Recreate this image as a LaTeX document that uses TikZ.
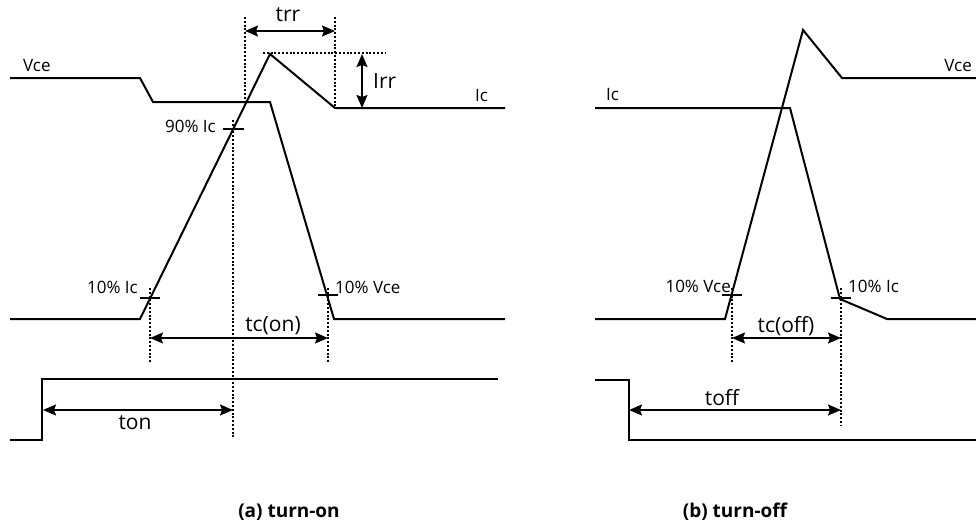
\documentclass[tikz,border=0pt]{standalone}
\usepackage{fontspec}
\setmainfont{Open Sans}
\usetikzlibrary{arrows.meta}
\begin{document}
\begin{tikzpicture}[x=1pt,y=-1pt,
  wave/.style={line width=2pt, line join=miter},
  guide/.style={line width=1.1pt, dash pattern=on 2pt off 1.8pt},
  dim/.style={line width=1.8pt, {Stealth[length=13pt,width=11pt,inset=2pt]}-{Stealth[length=13pt,width=11pt,inset=2pt]}},
  tickmark/.style={line width=1.3pt},
  lbl/.style={inner sep=0pt, font=\fontsize{17}{20}\selectfont},
  big/.style={inner sep=0pt, font=\fontsize{21}{24}\selectfont},
  captxt/.style={inner sep=0pt, font=\fontsize{19}{22}\selectfont\bfseries}]
\useasboundingbox (0,0) rectangle (976,527);

% ---------------- (a) turn-on ----------------
% Vce waveform
\coordinate (av0) at (10,78);
\coordinate (av1) at (140,78);
\coordinate (av2) at (153,102);
\coordinate (av3) at (270,102);
\coordinate (av4) at (334,319);
\coordinate (av5) at (505,319);
\draw[wave] (av0) -- (av1) -- (av2) -- (av3) -- (av4) -- (av5);
% Ic waveform
\coordinate (ai0) at (10,319);
\coordinate (ai1) at (140,319);
\coordinate (ai2) at (270,54);
\coordinate (ai3) at (335,108);
\coordinate (ai4) at (505,108);
\draw[wave] (ai0) -- (ai1) -- (ai2) -- (ai3) -- (ai4);
% gate
\coordinate (ag0) at (10,440);
\coordinate (ag1) at (42,440);
\coordinate (ag2) at (42,379);
\coordinate (ag3) at (498,379);
\draw[wave] (ag0) -- (ag1) -- (ag2) -- (ag3);

% guides
\coordinate (d90t) at (233,120);  \coordinate (d90b) at (233,438);
\coordinate (dtrA) at (245,17);   \coordinate (dtrAb) at (245,103);
\coordinate (dtrB) at (335,17);   \coordinate (dtrBb) at (335,108);
\coordinate (dpkA) at (263,53);   \coordinate (dpkB) at (385,53);
\coordinate (d10t) at (150,288);  \coordinate (d10b) at (150,362);
\coordinate (dvt)  at (328,288);  \coordinate (dvb)  at (328,362);
\draw[guide] (d90t) -- (d90b);
\draw[guide] (dtrA) -- (dtrAb);
\draw[guide] (dtrB) -- (dtrBb);
\draw[guide] (dpkA) -- (dpkB);
\draw[guide] (d10t) -- (d10b);
\draw[guide] (dvt) -- (dvb);

% ticks
\coordinate (t90a) at (223,129); \coordinate (t90b) at (244,129);
\coordinate (t10a) at (140,298); \coordinate (t10b) at (160,298);
\coordinate (tva)  at (318,295); \coordinate (tvb)  at (338,295);
\draw[tickmark] (t90a) -- (t90b);
\draw[tickmark] (t10a) -- (t10b);
\draw[tickmark] (tva) -- (tvb);

% dimension arrows
\coordinate (trrL) at (245,31);  \coordinate (trrR) at (335,31);
\coordinate (irrT) at (362,54);  \coordinate (irrB) at (362,108);
\coordinate (tconL) at (150,338); \coordinate (tconR) at (328,338);
\coordinate (tonL) at (43,410);  \coordinate (tonR) at (233,410);
\draw[dim] (trrL) -- (trrR);
\draw[dim] (irrT) -- (irrB);
\draw[dim] (tconL) -- (tconR);
\draw[dim] (tonL) -- (tonR);

% labels
\node[lbl, anchor=base west] (aVce) at (23,71) {Vce};
\node[lbl, anchor=base west] (aIc) at (475,101) {Ic};
\node[big, anchor=base west] (aIrr) at (373,88) {Irr};
\node[big, anchor=base] (atrr) at (288,22) {trr};
\node[lbl, anchor=base east] (a90) at (216,132) {90\% Ic};
\node[lbl, anchor=base east] (a10i) at (138,293) {10\% Ic};
\node[lbl, anchor=base west] (a10v) at (335,293) {10\% Vce};
\node[big, anchor=base] (atcon) at (273,331) {tc(on)};
\node[big, anchor=base] (aton) at (135,429) {ton};
\node[captxt, anchor=base] (acap) at (289,517) {(a) turn-on};

% ---------------- (b) turn-off ----------------
% Ic waveform
\coordinate (bi0) at (595,108);
\coordinate (bi1) at (790,108);
\coordinate (bi2) at (840,299);
\coordinate (bi3) at (887,319);
\coordinate (bi4) at (976,319);
\draw[wave] (bi0) -- (bi1) -- (bi2) -- (bi3) -- (bi4);
% Vce waveform
\coordinate (bv0) at (595,319);
\coordinate (bv1) at (725,319);
\coordinate (bv2) at (803,30);
\coordinate (bv3) at (842,78);
\coordinate (bv4) at (976,78);
\draw[wave] (bv0) -- (bv1) -- (bv2) -- (bv3) -- (bv4);
% gate
\coordinate (bg0) at (595,380);
\coordinate (bg1) at (629,380);
\coordinate (bg2) at (629,440);
\coordinate (bg3) at (976,440);
\draw[wave] (bg0) -- (bg1) -- (bg2) -- (bg3);

% guides
\coordinate (bdvt) at (732,288); \coordinate (bdvb) at (732,362);
\coordinate (bdit) at (841,288); \coordinate (bdib) at (841,425);
\draw[guide] (bdvt) -- (bdvb);
\draw[guide] (bdit) -- (bdib);

% ticks
\coordinate (btva) at (722,295); \coordinate (btvb) at (742,295);
\coordinate (btia) at (831,298); \coordinate (btib) at (851,298);
\draw[tickmark] (btva) -- (btvb);
\draw[tickmark] (btia) -- (btib);

% dimension arrows
\coordinate (tcoffL) at (732,338); \coordinate (tcoffR) at (841,338);
\coordinate (toffL) at (629,410);  \coordinate (toffR) at (841,410);
\draw[dim] (tcoffL) -- (tcoffR);
\draw[dim] (toffL) -- (toffR);

% labels
\node[lbl, anchor=base west] (bIc) at (606,100) {Ic};
\node[lbl, anchor=base east] (bVce) at (972,71) {Vce};
\node[lbl, anchor=base east] (b10v) at (731,292) {10\% Vce};
\node[lbl, anchor=base west] (b10i) at (848,292) {10\% Ic};
\node[big, anchor=base] (btcoff) at (786,332) {tc(off)};
\node[big, anchor=base] (btoff) at (722,405) {toff};
\node[captxt, anchor=base] (bcap) at (735,517) {(b) turn-off};
\end{tikzpicture}
\end{document}
